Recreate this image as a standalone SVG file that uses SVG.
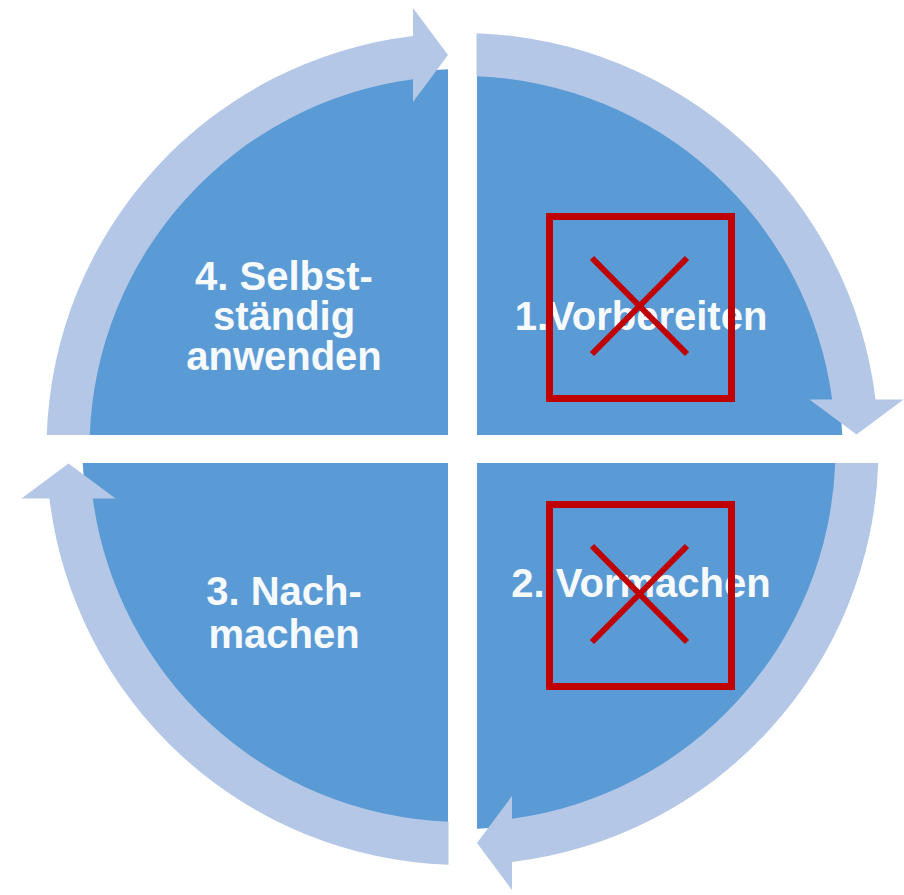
<svg xmlns="http://www.w3.org/2000/svg" width="904" height="895" viewBox="0 0 904 895">
  <style>
    .q { fill: #5b9bd5; }
    .band { fill: #b4c7e7; }
    .lbl { font-family: "Liberation Sans", Arial, sans-serif; font-weight: bold; font-size: 40px; fill: #f7fafd; text-anchor: middle; }
    .mark { fill: none; stroke: #c00000; stroke-width: 7; }
    .cross { stroke: #c00000; stroke-width: 6; }
  </style>
  <defs>
    <path id="arc" d="M -415.76,-14 A 416 416 0 0 1 -49.5,-413.04 L -49.5,-441 L -14.5,-394 L -49.5,-347 L -49.5,-369.7 A 373 373 0 0 0 -372.74,-14 Z"/>
  </defs>
  <rect width="904" height="895" fill="#ffffff"/>

  <g id="node-4" transform="translate(462.5,449)">
    <path class="q" d="M -14.5,-14 L -379.74,-14 A 380 380 0 0 1 -14.5,-379.72 Z"/>
    <text class="lbl" x="-178.5" y="-159">4. Selbst-</text>
    <text class="lbl" x="-178.5" y="-119">ständig</text>
    <text class="lbl" x="-178.5" y="-79">anwenden</text>
  </g>
  <g id="node-1" transform="translate(462.5,449)">
    <path class="q" d="M 14.5,-14 L 14.5,-379.72 A 380 380 0 0 1 379.74,-14 Z"/>
    <text class="lbl" x="178.5" y="-119">1.Vorbereiten</text>
  </g>
  <g id="node-2" transform="translate(462.5,449)">
    <path class="q" d="M 14.5,14 L 379.74,14 A 380 380 0 0 1 14.5,379.72 Z"/>
    <text class="lbl" x="178.5" y="148">2. Vormachen</text>
  </g>
  <g id="node-3" transform="translate(462.5,449)">
    <path class="q" d="M -14.5,14 L -14.5,379.72 A 380 380 0 0 1 -379.74,14 Z"/>
    <text class="lbl" x="-178.5" y="156">3. Nach-</text>
    <text class="lbl" x="-178.5" y="199">machen</text>
  </g>

  <g id="connectors" transform="translate(462.5,449)">
    <use href="#arc" class="band"/>
    <use href="#arc" class="band" transform="rotate(90)"/>
    <use href="#arc" class="band" transform="rotate(180)"/>
    <use href="#arc" class="band" transform="rotate(270)"/>
  </g>

  <g id="mark-1">
    <rect class="mark" x="549.5" y="216.5" width="182" height="182"/>
    <line class="cross" x1="592" y1="258" x2="687" y2="354"/>
    <line class="cross" x1="687" y1="258" x2="592" y2="354"/>
  </g>
  <g id="mark-2">
    <rect class="mark" x="549.5" y="504.5" width="182" height="182"/>
    <line class="cross" x1="592" y1="546" x2="687" y2="642"/>
    <line class="cross" x1="687" y1="546" x2="592" y2="642"/>
  </g>
</svg>
